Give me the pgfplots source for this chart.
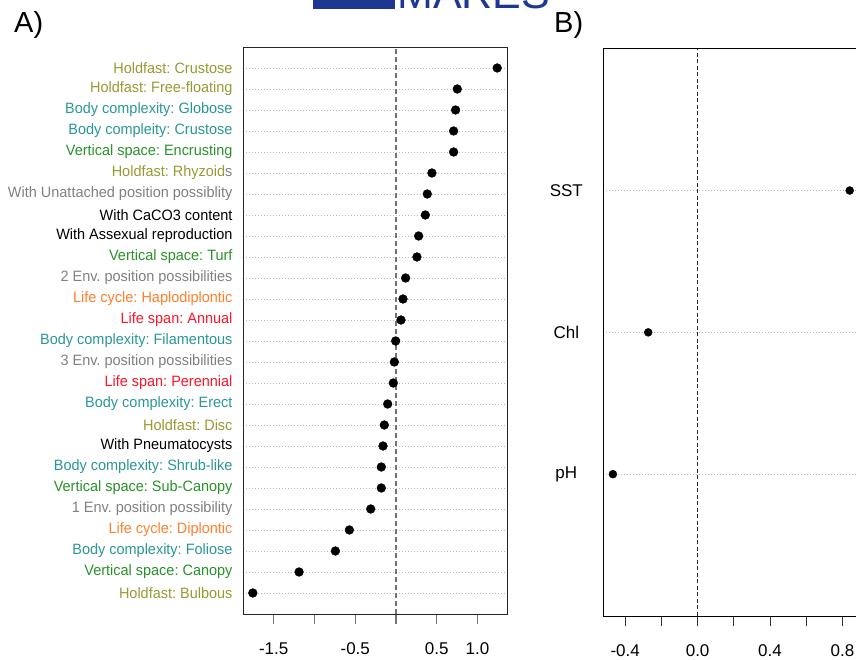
\documentclass[border=0pt]{standalone}
\usepackage{pgfplots}
\pgfplotsset{compat=1.18}
\usepackage{fontspec}
\setmainfont{Liberation Sans}
\newfontfamily\narrowfont[FakeStretch=0.965]{Liberation Sans}
\definecolor{colOlive}{RGB}{153,153,51}
\definecolor{colTeal}{RGB}{42,150,150}
\definecolor{colGreen}{RGB}{40,145,40}
\definecolor{colGray}{RGB}{128,128,128}
\definecolor{colOrange}{RGB}{255,127,42}
\definecolor{colRed}{RGB}{255,20,40}
\definecolor{logoblue}{RGB}{30,55,145}
\frenchspacing
\begin{document}
\frenchspacing
\begin{tikzpicture}
\useasboundingbox (0pt,0pt) rectangle (856pt,660pt);
\clip (0pt,0pt) rectangle (856pt,660pt);
% logo (cut off at the top)
\fill[logoblue] (313pt,651pt) rectangle (395pt,662pt);
\node[anchor=base west, inner sep=0, text=logoblue] at (397pt,651.5pt) {\fontsize{43}{43}\selectfont MARES};
\node[anchor=base west, inner sep=0] at (14pt,627pt) {\fontsize{29}{29}\selectfont A)};
\node[anchor=base west, inner sep=0] at (554pt,627pt) {\fontsize{29}{29}\selectfont B)};

\begin{axis}[
  at={(243pt,46pt)}, anchor=south west, scale only axis,
  width=264pt, height=567pt,
  xmin=-1.877, xmax=1.362, ymin=0, ymax=27,
  axis line style={black!85, line width=0.9pt},
  xtick pos=bottom, ytick pos=left,
  tick align=outside, major tick length=10pt,
  xtick={-1.5,-1,-0.5,0,0.5,1}, xticklabels={-1.5,,-0.5,,0.5,1.0},
  x tick style={black!55, line width=1.2pt},
  xticklabel style={font=\fontsize{17}{17}\selectfont, yshift=-15pt},
  ytick={1,...,26},
  y tick style={draw=none},
  yticklabel style={font=\narrowfont\fontsize{15}{15}\selectfont, anchor=east, xshift=3pt},
  yticklabels={
    {\color{colOlive}Holdfast: Bulbous},
    {\color{colGreen}Vertical space: Canopy},
    {\color{colTeal}Body complexity: Foliose},
    {\color{colOrange}Life cycle: Diplontic},
    {\color{colGray}1 Env. position possibility},
    {\color{colGreen}Vertical space: Sub-Canopy},
    {\color{colTeal}Body complexity: Shrub-like},
    {\color{black}With Pneumatocysts},
    {\color{colOlive}Holdfast: Disc},
    {\color{colTeal}Body complexity: Erect},
    {\color{colRed}Life span: Perennial},
    {\color{colGray}3 Env. position possibilities},
    {\color{colTeal}Body complexity: Filamentous},
    {\color{colRed}Life span: Annual},
    {\color{colOrange}Life cycle: Haplodiplontic},
    {\color{colGray}2 Env. position possibilities},
    {\color{colGreen}Vertical space: Turf},
    {\color{black}With Assexual reproduction},
    {\color{black}With CaCO3 content},
    {\color{colGray}With Unattached position possiblity},
    {\color{colOlive}Holdfast: Rhyzoid\color{colGray}s},
    {\color{colGreen}Vertical space: Encrusting},
    {\color{colTeal}Body compleity: Crustose},
    {\color{colTeal}Body complexity: Globose},
    {\color{colOlive}Holdfast: Free-floating},
    {\color{colOlive}Holdfast: Crustose}
  },
  ymajorgrids, major grid style={black!28, line width=0.6pt, dash pattern=on 1pt off 2pt},
]
\addplot[black!55, line width=1.3pt, dash pattern=on 5pt off 3pt] coordinates {(0,0) (0,27)};
\addplot[only marks, mark=*, mark size=4.4pt, black] coordinates {
(-1.757,1) (-1.189,2) (-0.743,3) (-0.572,4) (-0.310,5) (-0.180,6) (-0.180,7)
(-0.159,8) (-0.143,9) (-0.102,10) (-0.033,11) (-0.020,12) (-0.004,13)
(0.061,14) (0.086,15) (0.118,16) (0.257,17) (0.278,18) (0.360,19) (0.384,20)
(0.441,21) (0.707,22) (0.707,23) (0.731,24) (0.752,25) (1.242,26)};
\end{axis}

\begin{axis}[
  at={(603.3pt,44pt)}, anchor=south west, scale only axis,
  width=255.8pt, height=567.3pt,
  xmin=-0.521, xmax=0.892, ymin=0, ymax=4,
  axis line style={black, line width=0.9pt},
  xtick pos=bottom, ytick pos=left,
  tick align=outside, major tick length=10pt,
  xtick={-0.4,-0.2,0,0.2,0.4,0.6,0.8}, xticklabels={-0.4,,0.0,,0.4,,0.8},
  x tick style={black!80, line width=1pt},
  xticklabel style={font=\fontsize{17}{17}\selectfont, yshift=-15pt},
  ytick={1,2,3}, yticklabels={pH,Chl,SST},
  y tick style={draw=none},
  yticklabel style={font=\fontsize{17}{17}\selectfont, anchor=center, xshift=-27pt},
  ymajorgrids, major grid style={black!28, line width=0.6pt, dash pattern=on 1pt off 2pt},
]
\addplot[black!85, line width=0.8pt, dash pattern=on 4pt off 2.5pt] coordinates {(0,0) (0,4)};
\addplot[only marks, mark=*, mark size=4pt, black] coordinates {(-0.468,1) (-0.273,2) (0.840,3)};
\end{axis}
\end{tikzpicture}
\end{document}
